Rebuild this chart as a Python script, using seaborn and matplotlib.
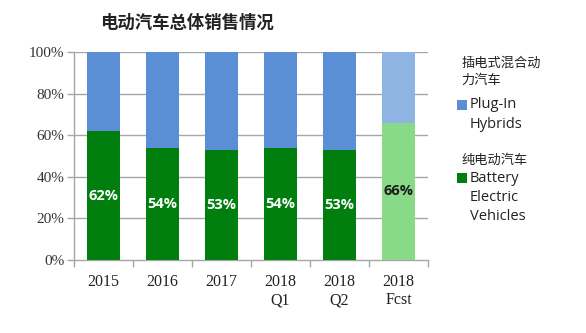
import matplotlib
matplotlib.use("Agg")
import matplotlib.pyplot as plt
import seaborn as sns
import pandas as pd
from matplotlib.patches import Rectangle

categories = ["2015", "2016", "2017", "2018\nQ1", "2018\nQ2", "2018\nFcst"]
bev_share = [62, 54, 53, 54, 53, 66]
phev_share = [100 - v for v in bev_share]
yticks = [0, 20, 40, 60, 80, 100]

title = "电动汽车总体销售情况"
phev_cn = ["插电式混合动", "力汽车"]
phev_en = ["Plug-In", "Hybrids"]
bev_cn = ["纯电动汽车"]
bev_en = ["Battery", "Electric", "Vehicles"]

green = "#007F0E"
blue = "#5A8FD5"
green_light = "#88DA88"
blue_light = "#8FB3E2"

sns.set_theme(style="white")
plt.rcParams["font.family"] = ["Noto Sans CJK SC", "DejaVu Sans"]

df = pd.DataFrame({"cat": categories, "bev": bev_share,
                   "total": [b + p for b, p in zip(bev_share, phev_share)]})

W, H = 586, 333
fig = plt.figure(figsize=(W / 100, H / 100), dpi=100)
ax = fig.add_axes([74 / W, (H - 260) / H, 354 / W, 208 / H])

# grid lines behind bars
for t in yticks[1:]:
    ax.axhline(t, color="#A6A6A6", lw=1.0, zorder=0)

# full-height bars (plug-in share on top) then BEV share over them
sns.barplot(data=df, x="cat", y="total", ax=ax, width=0.56,
            palette=[blue] * 5 + [blue_light], hue="cat", legend=False,
            saturation=1, linewidth=0, zorder=2)
sns.barplot(data=df, x="cat", y="bev", ax=ax, width=0.56,
            palette=[green] * 5 + [green_light], hue="cat", legend=False,
            saturation=1, linewidth=0, zorder=3)

for i, v in enumerate(bev_share):
    col = "white" if i < 5 else "#1a1a1a"
    ax.text(i, v / 2, f"{v}%", ha="center", va="center", color=col,
            fontsize=10.5, fontweight="bold", family=["Open Sans", "DejaVu Sans"], zorder=4)

ax.set_xlim(-0.5, len(categories) - 0.5)
ax.set_ylim(0, 100)
ax.set_yticks(yticks)
ax.set_yticklabels([f"{t}%" for t in yticks], family=["Liberation Serif"], fontsize=11, color="#333333")
ax.set_xticks(range(len(categories)))
ax.set_xticklabels(categories, family=["Liberation Serif"], fontsize=11.5, color="#222222", linespacing=1.2)
ax.set_xlabel("")
ax.set_ylabel("")

for s in ["top", "right"]:
    ax.spines[s].set_visible(False)
for s in ["left", "bottom"]:
    ax.spines[s].set_color("#A6A6A6")
    ax.spines[s].set_linewidth(1.0)

ax.tick_params(axis="y", left=True, length=5, color="#A6A6A6", width=1.0, pad=2)
ax.tick_params(axis="x", bottom=False, pad=4)
# boundary ticks between categories on the x axis
ax.set_xticks([i - 0.5 for i in range(len(categories) + 1)], minor=True)
ax.tick_params(axis="x", which="minor", bottom=True, length=5, color="#A6A6A6", width=1.0)

fig.text(100 / W, (H - 23) / H, title, fontsize=12.5, fontweight="bold",
         color="#222222", va="center", ha="left")

# legend block
def ftext(x, y, s, **kw):
    fig.text(x / W, (H - y) / H, s, va="center", ha="left", color="#222222", **kw)

cn_kw = dict(fontsize=9.5)
en_kw = dict(fontsize=10.5, family=["Open Sans", "DejaVu Sans"])

for k, line in enumerate(phev_cn):
    ftext(461, 63 + 17 * k, line, **cn_kw)
fig.patches.append(Rectangle((457 / W, (H - 110) / H), 10 / W, 10 / H,
                             transform=fig.transFigure, facecolor=blue, edgecolor="none"))
for k, line in enumerate(phev_en):
    ftext(470, 105 + 19 * k, line, **en_kw)

for k, line in enumerate(bev_cn):
    ftext(461, 160 + 17 * k, line, **cn_kw)
fig.patches.append(Rectangle((457 / W, (H - 183) / H), 10 / W, 10 / H,
                             transform=fig.transFigure, facecolor=green, edgecolor="none"))
for k, line in enumerate(bev_en):
    ftext(470, 178 + 19.5 * k, line, **en_kw)

fig.savefig("out.png", dpi=100, facecolor="white")
